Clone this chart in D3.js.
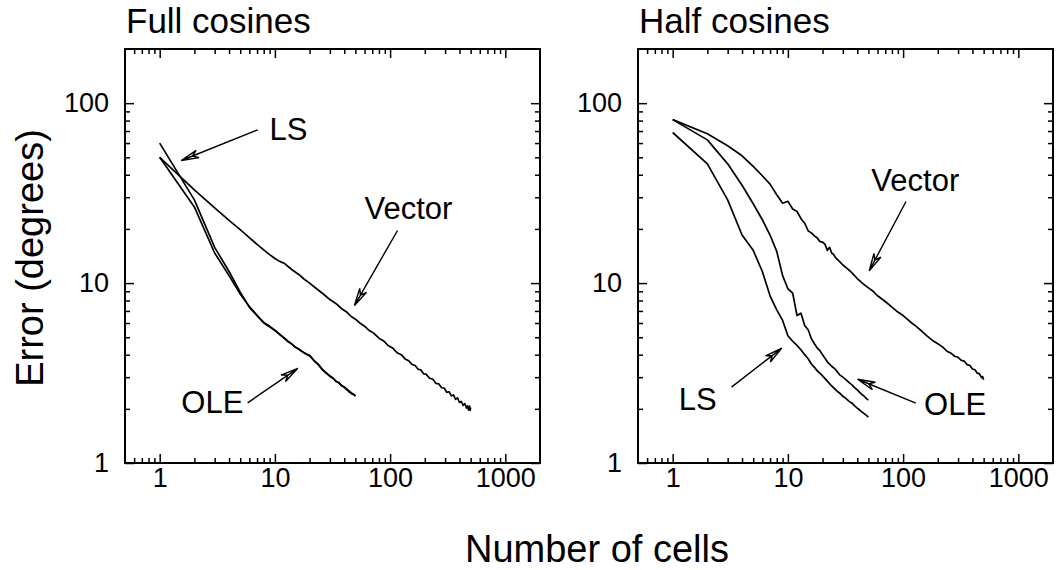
<!DOCTYPE html>
<html>
<head>
<meta charset="utf-8">
<script src="https://cdn.jsdelivr.net/npm/d3@7"></script>
<style>
  body { margin: 0; background: #fff; }
  svg { display: block; font-family: "Liberation Sans", Arial, Helvetica, sans-serif; }
</style>
</head>
<body>
<div id="chart"></div>
<script>
// number of cells used for the LS / OLE curves (both panels)
const nShort = [1,2,3,4,5,6,7,8,9,10,11,12,13,14,15,16,17,18,19,20,22,24,26,28,30,32,34,36,38,40,42,44,46,48,50];

// Full cosines, error in degrees
const fullLS  = [60,29,15.8,11.6,8.9,7.35,6.6,6.05,5.75,5.45,5.2,4.95,4.75,4.58,4.42,4.3,4.2,4.08,4.02,3.95,3.7,3.5,3.3,3.15,3.05,2.95,2.85,2.78,2.7,2.63,2.59,2.48,2.46,2.4,2.37];
const fullOLE = [50,26.5,14.7,11.0,8.7,7.4,6.62,6.0,5.72,5.47,5.17,4.97,4.72,4.6,4.4,4.32,4.18,4.1,4.0,3.97,3.68,3.52,3.28,3.17,3.03,2.97,2.83,2.8,2.68,2.65,2.55,2.52,2.43,2.42,2.35];
const fullVecN = [1,2,3,4,5,6,7,8,9,10,11,12,14,16,18,20,23,26,30,34,38,42,46,50,55,60,66,72,80,88,96,105,115,125,135,145,155,165,175,185,195,205,220,235,250,265,280,295,310,325,340,355,370,385,400,415,430,445,460,470,480,490,495,500];
const fullVec = [50,33,26.2,22.3,19.8,17.9,16.4,15.3,14.4,13.7,13.2,12.9,11.9,11.2,10.5,10.0,9.3,8.75,8.1,7.68,7.2,6.9,6.52,6.3,5.98,5.76,5.45,5.27,4.94,4.77,4.5,4.36,4.1,4.0,3.79,3.7,3.53,3.48,3.32,3.29,3.13,3.12,2.96,2.92,2.77,2.75,2.62,2.61,2.47,2.49,2.36,2.39,2.26,2.3,2.17,2.2,2.09,2.14,2.02,2.08,1.97,2.07,1.96,2.03];

// Half cosines, error in degrees
const halfLS  = [68.7,46,29,18.5,15.2,11.6,8.5,7.1,6.2,5.1,4.75,4.5,4.25,4.0,3.8,3.55,3.4,3.25,3.15,3.05,2.85,2.68,2.55,2.45,2.35,2.28,2.2,2.15,2.08,2.02,1.97,1.92,1.88,1.84,1.8];
const halfOLE = [81,62.5,46,35,27.6,22.5,18.5,15,11,9.3,8.8,6.6,6.8,5.8,5.5,4.9,4.6,4.35,4.2,4.0,3.65,3.45,3.3,3.1,3.0,2.9,2.8,2.72,2.62,2.55,2.47,2.4,2.35,2.28,2.24];
const halfVecN = [1,2,3,4,5,6,7,8,9,10,11,12,13,14,15,16,17,18,19,20,21,22,23,24,25,26,28,30,33,36,40,45,50,55,60,70,80,90,100,115,130,145,160,180,200,220,240,260,280,300,320,340,360,380,400,420,440,460,480,490,500];
const halfVec = [81,67.6,58,51,44.5,39.5,35.5,31,27.8,28.5,25.8,25.0,22.8,21.5,19.5,19.0,18.3,17.8,17.0,16.9,16.4,15.2,15.8,14.7,14.4,13.8,13.2,12.6,12.0,11.4,10.6,9.9,9.4,9.0,8.5,7.9,7.35,6.9,6.6,6.1,5.75,5.4,5.1,4.8,4.6,4.42,4.18,4.08,3.92,3.87,3.72,3.68,3.52,3.48,3.33,3.3,3.16,3.13,2.98,3.02,2.9];

// tick values
const xMajor = [1, 10, 100, 1000];
const xMinor = [0.6,0.7,0.8,0.9,2,3,4,5,6,7,8,9,20,30,40,50,60,70,80,90,200,300,400,500,600,700,800,900];
const yMajor = [1, 10, 100];
const yMinor = [2,3,4,5,6,7,8,9,20,30,40,50,60,70,80,90];

// callouts, in data units: [n, error]
const fullNotes = [
  {label: "LS",     text: [9.0, 62.6],  tail: [7.1, 71.1],  tip: [1.54, 48.0]},
  {label: "Vector", text: [60, 22.7],   tail: [116, 19.6],  tip: [49, 7.5]},
  {label: "OLE",    text: [1.54, 1.89], tail: [5.8, 2.16],  tip: [15.8, 3.36]}
];
const halfNotes = [
  {label: "Vector", text: [53, 32.3],   tail: [106, 28.4],  tip: [50.8, 11.7]},
  {label: "LS",     text: [1.13, 1.97], tail: [3.24, 2.64], tip: [8.86, 4.35]},
  {label: "OLE",    text: [152, 1.85],  tail: [129, 2.15],  tip: [40.3, 2.92]}
];

const W = 1059, H = 570;
const panelW = 415, panelH = 414, panelTop = 49;

const svg = d3.select("#chart").append("svg")
    .attr("width", W)
    .attr("height", H);

const x = d3.scaleLog().domain([0.5, 2000]).range([0, panelW]);
const y = d3.scaleLog().domain([1, 200]).range([panelH, 0]);

const line = d3.line()
    .x(d => x(d[0]))
    .y(d => y(d[1]));

const panels = [
  {title: "Full cosines", left: 125, series: [[nShort, fullLS], [nShort, fullOLE], [fullVecN, fullVec]], notes: fullNotes},
  {title: "Half cosines", left: 638, series: [[nShort, halfLS], [nShort, halfOLE], [halfVecN, halfVec]], notes: halfNotes}
];

function tickAxis(g, axis, values, size, pad) {
  g.call(axis.tickValues(values).tickSize(-size).tickPadding(pad || 0)
      .tickFormat(pad ? d3.format("d") : ""));
  g.select(".domain").remove();
  g.selectAll(".tick line").attr("stroke", "#000").attr("stroke-width", 1.5);
  g.attr("font-size", 27).attr("font-family", null);
  g.selectAll(".tick text").attr("fill", "#000");
}

panels.forEach(p => {
  const g = svg.append("g").attr("transform", `translate(${p.left},${panelTop})`);

  // ticks on all four sides, pointing inward
  tickAxis(g.append("g").attr("transform", `translate(0,${panelH})`), d3.axisBottom(x), xMajor, 9, 5);
  tickAxis(g.append("g").attr("transform", `translate(0,${panelH})`), d3.axisBottom(x), xMinor, 5);
  tickAxis(g.append("g"), d3.axisTop(x), xMajor, 9);
  tickAxis(g.append("g"), d3.axisTop(x), xMinor, 5);
  tickAxis(g.append("g"), d3.axisLeft(y), yMajor, 9, 16);
  tickAxis(g.append("g"), d3.axisLeft(y), yMinor, 5);
  tickAxis(g.append("g").attr("transform", `translate(${panelW},0)`), d3.axisRight(y), yMajor, 9);
  tickAxis(g.append("g").attr("transform", `translate(${panelW},0)`), d3.axisRight(y), yMinor, 5);

  g.append("rect")
      .attr("width", panelW)
      .attr("height", panelH)
      .attr("fill", "none")
      .attr("stroke", "#000")
      .attr("stroke-width", 2);

  // curves
  p.series.forEach(s => {
    g.append("path")
        .datum(d3.zip(s[0], s[1]))
        .attr("d", line)
        .attr("fill", "none")
        .attr("stroke", "#000")
        .attr("stroke-width", 1.7)
        .attr("stroke-linejoin", "round");
  });

  // callout labels + arrows
  p.notes.forEach(a => {
    g.append("text")
        .attr("x", x(a.text[0]))
        .attr("y", y(a.text[1]))
        .attr("font-size", 31)
        .text(a.label);

    const x0 = x(a.tail[0]), y0 = y(a.tail[1]);
    const x1 = x(a.tip[0]),  y1 = y(a.tip[1]);
    const ang = Math.atan2(y0 - y1, x0 - x1);
    const len = 18, spread = 0.22, notch = 12;
    const b1 = [x1 + len * Math.cos(ang + spread), y1 + len * Math.sin(ang + spread)];
    const b2 = [x1 + len * Math.cos(ang - spread), y1 + len * Math.sin(ang - spread)];
    const nb = [x1 + notch * Math.cos(ang), y1 + notch * Math.sin(ang)];

    g.append("path")
        .attr("d", `M${x0},${y0}L${x1},${y1}M${b1}L${x1},${y1}L${b2}L${nb}Z`)
        .attr("fill", "none")
        .attr("stroke", "#000")
        .attr("stroke-width", 1.4)
        .attr("stroke-linejoin", "miter");
  });

  svg.append("text")
      .attr("x", p.left + 1)
      .attr("y", 33)
      .attr("font-size", 35)
      .text(p.title);
});

// shared axis titles
svg.append("text")
    .attr("x", 597)
    .attr("y", 562)
    .attr("text-anchor", "middle")
    .attr("font-size", 38)
    .text("Number of cells");

svg.append("text")
    .attr("transform", "translate(43,258) rotate(-90)")
    .attr("text-anchor", "middle")
    .attr("font-size", 38)
    .text("Error (degrees)");
</script>
</body>
</html>
